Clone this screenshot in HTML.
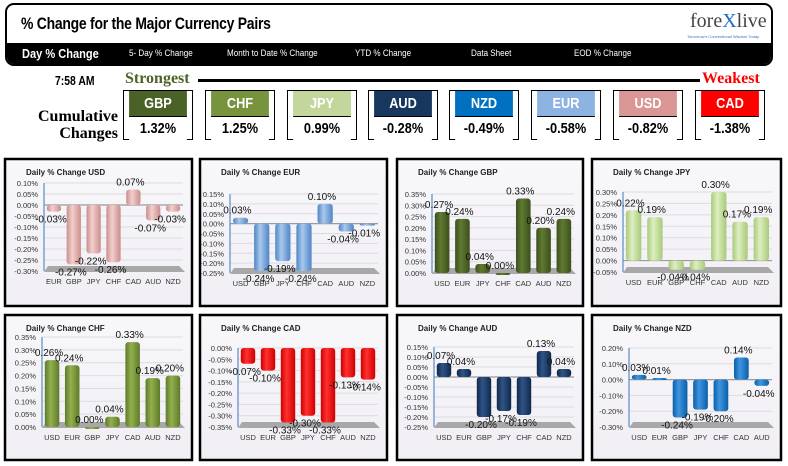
<!DOCTYPE html>
<html><head><meta charset="utf-8">
<style>
body{margin:0;width:788px;height:466px;background:#fff;overflow:hidden;position:relative;font-family:"Liberation Sans",sans-serif}
.abs{position:absolute}
#hdr{left:5px;top:3px;width:764px;height:59px;border:2px solid #000;border-radius:9px;background:#fff;overflow:hidden}
#title{left:14px;top:9px;font-size:17px;font-weight:bold;transform:scaleX(0.82);transform-origin:left;letter-spacing:-0.3px;white-space:nowrap}
#nav{left:0;top:38px;width:764px;height:21px;background:#000;color:#fff}
.nv{position:absolute;top:5px;font-size:9.5px;white-space:nowrap;transform:scaleX(0.85);transform-origin:left}
.cb{position:absolute;width:70px;height:50px;border:1px solid #000;box-sizing:border-box}
.cb .h{height:25px;line-height:25px;text-align:center;color:#fff;font-weight:bold;font-size:15px;border-bottom:1px solid #000;transform:scaleX(0.85)}
.cb .v{height:24px;line-height:24px;text-align:center;font-weight:bold;font-size:15px;background:#fff;transform:scaleX(0.85)}
</style></head><body>
<div id="hdr" class="abs">
  <div id="title" class="abs">% Change for the Major Currency Pairs</div>
  <div class="abs" style="left:683px;top:5px;font-family:'Liberation Serif',serif;font-size:20px;color:#444">fore<span style="color:#1f6fc0">X</span>live</div>
  <div class="abs" style="left:680px;top:29px;font-size:4px;color:#3a6fc0;white-space:nowrap">Tomorrow's Conventional Wisdom Today</div>
  <div id="nav" class="abs">
    <div class="nv" style="left:15px;top:3px;font-size:13px;font-weight:bold">Day % Change</div>
    <div class="nv" style="left:122px">5- Day % Change</div>
    <div class="nv" style="left:220px">Month to Date % Change</div>
    <div class="nv" style="left:348px">YTD % Change</div>
    <div class="nv" style="left:464px">Data Sheet</div>
    <div class="nv" style="left:567px">EOD % Change</div>
  </div>
</div>
<div class="abs" style="left:55px;top:73px;font-size:13px;font-weight:bold;transform:scaleX(0.8);transform-origin:left">7:58 AM</div>
<div class="abs" style="left:125px;top:70px;font-family:'Liberation Serif',serif;font-size:16px;font-weight:bold;color:#4f6228">Strongest</div>
<div class="abs" style="left:198px;top:79px;width:502px;height:3px;background:#000"></div>
<div class="abs" style="left:702px;top:70px;font-family:'Liberation Serif',serif;font-size:16px;font-weight:bold;color:#f00">Weakest</div>
<div class="abs" style="left:38px;top:108px;font-family:'Liberation Serif',serif;font-size:16px;font-weight:bold;text-align:right;line-height:17px;width:80px">Cumulative<br>Changes</div>
<div id="cboxes"></div>
<svg id="charts" class="abs" style="left:0;top:0" width="788" height="466">
<defs>
<linearGradient id="pbg" x1="0" y1="0" x2="0" y2="1"><stop offset="0" stop-color="#f8f7fa"/><stop offset="1" stop-color="#f1eff4"/></linearGradient>
</defs>
</svg>
<script>
const cumCurrencies=['GBP','CHF','JPY','AUD','NZD','EUR','USD','CAD'];
const cumValues=['1.32%','1.25%','0.99%','-0.28%','-0.49%','-0.58%','-0.82%','-1.38%'];
const cumColors=['#4a6128','#77933c','#c3d69b','#17375e','#0070c0','#8db3e2','#d99694','#ff0000'];
const cumLeft=[123,205,287,368,449,531,613,695];
const cb=document.getElementById('cboxes');
cumCurrencies.forEach((c,i)=>{
  const d=document.createElement('div');
  d.className='cb';
  
  
  d.style.left=cumLeft[i]+'px';d.style.top='90px';
  d.innerHTML='<div class="h" style="background:'+cumColors[i]+'">'+c+'</div><div class="v">'+cumValues[i]+'</div>';
  cb.appendChild(d);
});

// chart data
const usdCats=['EUR','GBP','JPY','CHF','CAD','AUD','NZD'];
const usdVals=[-0.03,-0.27,-0.22,-0.26,0.07,-0.07,-0.03];
const eurCats=['USD','GBP','JPY','CHF','CAD','AUD','NZD'];
const eurVals=[0.03,-0.24,-0.19,-0.24,0.10,-0.04,-0.01];
const gbpCats=['USD','EUR','JPY','CHF','CAD','AUD','NZD'];
const gbpVals=[0.27,0.24,0.04,0.00,0.33,0.20,0.24];
const jpyCats=['USD','EUR','GBP','CHF','CAD','AUD','NZD'];
const jpyVals=[0.22,0.19,-0.04,-0.04,0.30,0.17,0.19];
const chfCats=['USD','EUR','GBP','JPY','CAD','AUD','NZD'];
const chfVals=[0.26,0.24,0.00,0.04,0.33,0.19,0.20];
const cadCats=['USD','EUR','GBP','JPY','CHF','AUD','NZD'];
const cadVals=[-0.07,-0.10,-0.33,-0.30,-0.33,-0.13,-0.14];
const audCats=['USD','EUR','GBP','JPY','CHF','CAD','NZD'];
const audVals=[0.07,0.04,-0.20,-0.17,-0.19,0.13,0.04];
const nzdCats=['USD','EUR','GBP','JPY','CHF','CAD','AUD'];
const nzdVals=[0.03,0.01,-0.24,-0.19,-0.20,0.14,-0.04];
const chartTitles=['USD','EUR','GBP','JPY','CHF','CAD','AUD','NZD'];
const axisMins=[-0.30,-0.25,0,-0.05,0,-0.35,-0.25,-0.30];
const axisMaxs=[0.10,0.15,0.35,0.30,0.35,0,0.15,0.20];
const axisSteps=[0.05,0.05,0.05,0.05,0.05,0.05,0.05,0.10];

const allCats=[usdCats,eurCats,gbpCats,jpyCats,chfCats,cadCats,audCats,nzdCats];
const allVals=[usdVals,eurVals,gbpVals,jpyVals,chfVals,cadVals,audVals,nzdVals];
const barColors=[['#c98e8c','#f3cfcd'],['#4f86c6','#a9c8ec'],['#3d4f1e','#5f7a30'],['#a9c97a','#dcefc0'],['#5f7a2a','#93b04e'],['#d00000','#ff3030'],['#10284a','#2f5487'],['#0b5fa8','#3f95e0']];
const panels=[[4,158,189,149],[199,158,189,149],[396,158,188,149],[591,158,191,149],[4,314,189,147],[199,314,189,147],[396,314,188,147],[591,314,191,147]];
const plotTops=[183,194,194,192,337,348,347,348];
const plotBots=[271,273,273,272,427,427,427,427];
const axisXs=[44,230,432,623,42,238,434,629];

const NS='http://www.w3.org/2000/svg';
const svg=document.getElementById('charts');
function mk(tag,attrs,parent){const e=document.createElementNS(NS,tag);for(const k in attrs)e.setAttribute(k,attrs[k]);(parent||svg).appendChild(e);return e;}
function fmt(v){return (Math.abs(v)<1e-9?0:v).toFixed(2)+'%';}

chartTitles.forEach((t,ci)=>{
  const [px,py,pw,ph]=panels[ci];
  const g=mk('g',{});
  
  
  const bg=mk('rect',{x:px+1,y:py+1,width:pw-2,height:ph-2,fill:'url(#pbg)',stroke:'#000','stroke-width':2.5},g);
  
  
  const ti=mk('text',{x:px+22,y:py+17,'font-size':'8px','font-weight':'bold',fill:'#222'},g);
  ti.textContent='Daily % Change '+t;
  
  
  const mn=axisMins[ci],mx=axisMaxs[ci],st=axisSteps[ci];
  const top=plotTops[ci],bot=plotBots[ci],ax=axisXs[ci],right=px+pw-10;
  const y=v=>top+(mx-v)/(mx-mn)*(bot-top);
  const nT=Math.round((mx-mn)/st);
  for(let k=0;k<=nT;k++){
    const v=mx-k*st;
    const gl=mk('line',{x1:ax,x2:right,y1:y(v),y2:y(v),stroke:'#dcdce0','stroke-width':1},g);
    
    
    const tl=mk('text',{x:ax-6,y:y(v)+3,'text-anchor':'end','font-size':'7.5px',fill:'#333'},g);
    tl.textContent=fmt(v);
    
    
  }
  const fl=mk('polygon',{points:[ax,bot+1,right+2,bot+1,right-4,bot-5,ax+4,bot-5].join(' '),fill:'#a8a8a8'},g);
  
  
  if(mn<0&&mx>0){
    const zl=mk('line',{x1:ax,x2:right,y1:y(0),y2:y(0),stroke:'#9a9a9a','stroke-width':1.2},g);
    
    
  }
  const axl=mk('line',{x1:ax,x2:ax,y1:top,y2:bot,stroke:'#5a8bc6','stroke-width':1.2},g);
  
  
  const gid='bg'+ci;
  const lg=mk('linearGradient',{id:gid,x1:0,y1:0,x2:1,y2:0},svg.querySelector('defs'));
  mk('stop',{offset:0,'stop-color':barColors[ci][0]},lg);
  mk('stop',{offset:0.4,'stop-color':barColors[ci][1]},lg);
  mk('stop',{offset:1,'stop-color':barColors[ci][0]},lg);
  const cats=allCats[ci],vals=allVals[ci];
  const slot=(right-ax)/cats.length;
  cats.forEach((c,i)=>{
    const cx=ax+slot*(i+0.5);
    const v=vals[i];
    const bw=slot*0.72;
    const y0=y(0),y1=y(v);
    let h=Math.abs(y1-y0);if(h<2)h=2;
    const b=mk('rect',{x:cx-bw/2,y:Math.min(y0,y1),width:bw,height:h,rx:3,fill:'url(#'+gid+')'},g);
    
    
    const vl=mk('text',{x:cx-slot*0.15,y:v>=0?y1-4:y1+11,'text-anchor':'middle','font-size':'10px',fill:'#111'},g);
    vl.textContent=fmt(v);
    
    
    const cl=mk('text',{x:cx,y:bot+13,'text-anchor':'middle','font-size':'7.5px',fill:'#333'},g);
    cl.textContent=c;
    
    
  });
});
</script>
</body></html>
